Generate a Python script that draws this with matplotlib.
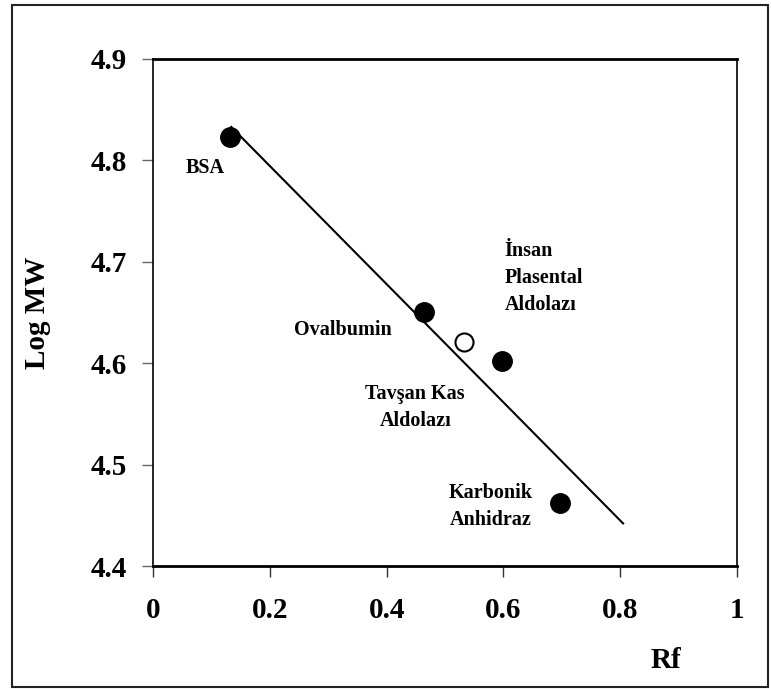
import matplotlib
matplotlib.use('Agg')
import matplotlib.pyplot as plt
import matplotlib.patches as patches

matplotlib.rc('font', **{'family': 'Liberation Serif', 'weight': 'bold', 'size': 21})

# data
rf = [0.132, 0.464, 0.598, 0.697]
logmw = [4.823, 4.650, 4.602, 4.462]
rf_unknown = [0.533]
logmw_unknown = [4.621]
fit_x = [0.134, 0.805]
fit_y = [4.833, 4.442]

labels = ['BSA', 'Ovalbumin', 'İnsan\nPlasental\nAldolazı', 'Tavşan Kas\nAldolazı', 'Karbonik\nAnhidraz']
label_x = [0.089, 0.325, 0.602, 0.449, 0.579]
label_y = [4.792, 4.633, 4.684, 4.556, 4.459]
label_ha = ['center', 'center', 'left', 'center', 'center']

fig = plt.figure(figsize=(7.71, 6.89), dpi=100)
ax = fig.add_axes([0.1984, 0.1785, 0.7575, 0.7359])

ax.plot(fit_x, fit_y, color='black', lw=1.5)
ax.plot(rf, logmw, marker='o', linestyle='none', color='black', markersize=14)
ax.plot(rf_unknown, logmw_unknown, marker='o', linestyle='none', markerfacecolor='white',
        markeredgecolor='black', markeredgewidth=1.5, markersize=13)

for t, x, y, ha in zip(labels, label_x, label_y, label_ha):
    ax.text(x, y, t, fontsize=14.5, fontweight='bold', ha=ha, va='center', linespacing=1.45)

ax.set_xlim(0, 1)
ax.set_ylim(4.4, 4.9)
ax.set_xticks([0, 0.2, 0.4, 0.6, 0.8, 1])
ax.set_xticklabels(['0', '0.2', '0.4', '0.6', '0.8', '1'])
ax.set_yticks([4.4, 4.5, 4.6, 4.7, 4.8, 4.9])
ax.tick_params(axis='x', direction='out', length=8, width=1, color='#333333', pad=14)
ax.tick_params(axis='y', direction='out', length=8, width=1, color='#666666', pad=11)

for s in ['top', 'bottom']:
    ax.spines[s].set_linewidth(2)
for s in ['left', 'right']:
    ax.spines[s].set_linewidth(1.2)

ax.set_ylabel('Log MW', fontsize=21, fontweight='bold', labelpad=28)
ax.set_xlabel('Rf', fontsize=21, fontweight='bold')
ax.xaxis.set_label_coords(0.879, -0.16)

fig.patches.append(patches.Rectangle((12 / 771, 2 / 689), 756 / 771, 682 / 689,
                                     transform=fig.transFigure, fill=False,
                                     edgecolor='#222222', lw=1.5))

plt.savefig('out.png', dpi=100)
